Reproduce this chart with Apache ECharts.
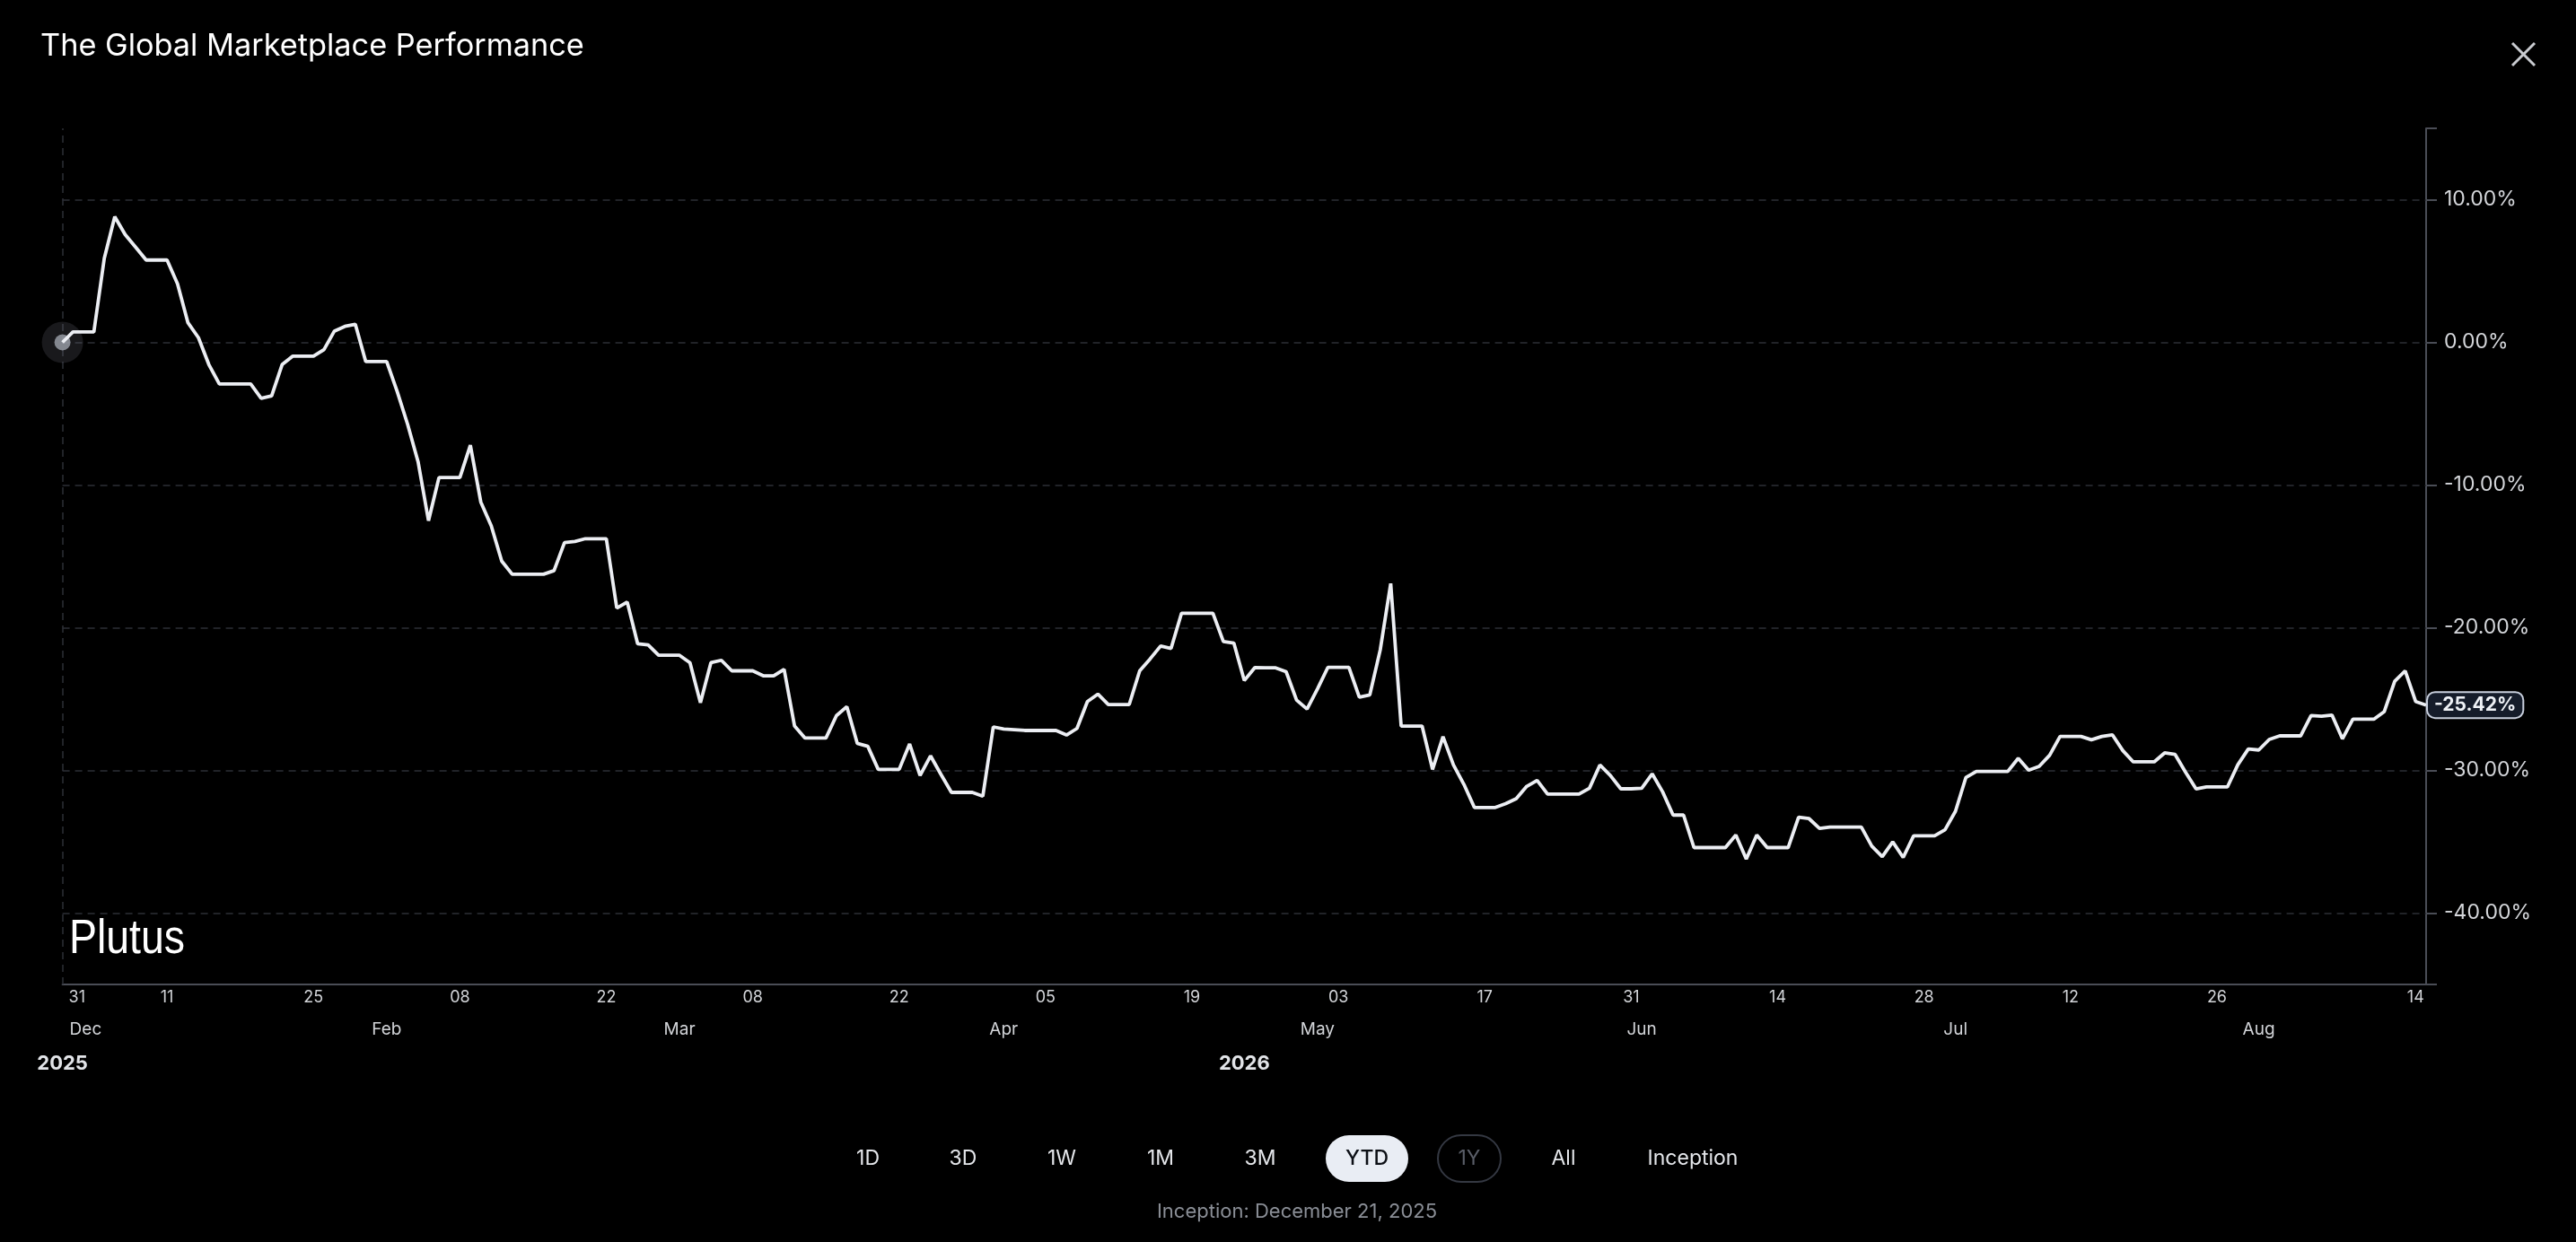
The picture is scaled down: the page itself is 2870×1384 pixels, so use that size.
<!DOCTYPE html>
<html style="height: 100%">
<head>
  <meta charset="utf-8">
  <script src="https://cdn.jsdelivr.net/npm/echarts@6/dist/echarts.min.js"></script>
  <style type="text/css">
    * { margin: 0; padding: 0; }
    body { background: #000; }
  </style>
</head>
<body style="height: 100%; margin: 0">
  <div id="container" style="width: 2870px; height: 1384px"></div>
  <script type="text/javascript">
    // daily performance (%) from 2026-01-01 to 2026-08-15
    var values = [
      0, 0.73, 0.73, 0.73, 5.9, 8.8, 7.55, 6.67, 5.77, 5.77,
      5.77, 4.1, 1.37, 0.33, -1.56, -2.92, -2.92, -2.92, -2.92, -3.92,
      -3.75, -1.56, -0.97, -0.97, -0.97, -0.51, 0.79, 1.12, 1.27, -1.35,
      -1.35, -1.35, -3.44, -5.74, -8.36, -12.5, -9.47, -9.47, -9.47, -7.21,
      -11.19, -12.86, -15.33, -16.25, -16.25, -16.25, -16.25, -16.0, -14.03, -13.95,
      -13.76, -13.76, -13.76, -18.62, -18.2, -21.13, -21.2, -21.93, -21.93, -21.93,
      -22.45, -25.26, -22.45, -22.28, -23.02, -23.02, -23.02, -23.37, -23.37, -22.91,
      -26.89, -27.73, -27.73, -27.73, -26.16, -25.53, -28.11, -28.31, -29.93, -29.93,
      -29.93, -28.15, -30.35, -28.98, -30.28, -31.54, -31.54, -31.54, -31.81, -26.95,
      -27.1, -27.14, -27.2, -27.2, -27.2, -27.2, -27.52, -27.06, -25.17, -24.65,
      -25.38, -25.38, -25.38, -23.02, -22.18, -21.28, -21.45, -18.98, -18.98, -18.98,
      -18.98, -20.97, -21.07, -23.7, -22.8, -22.81, -22.81, -23.08, -25.07, -25.7,
      -24.28, -22.77, -22.77, -22.77, -24.86, -24.71, -21.55, -16.9, -26.89, -26.89,
      -26.89, -29.93, -27.63, -29.62, -30.98, -32.6, -32.6, -32.6, -32.33, -31.98,
      -31.12, -30.7, -31.66, -31.66, -31.66, -31.66, -31.25, -29.62, -30.35, -31.29,
      -31.29, -31.25, -30.24, -31.5, -33.13, -33.13, -35.41, -35.41, -35.41, -35.41,
      -34.53, -36.21, -34.53, -35.41, -35.41, -35.41, -33.28, -33.38, -34.07, -33.97,
      -33.97, -33.97, -33.97, -35.31, -36.04, -35.01, -36.1, -34.58, -34.58, -34.58,
      -34.16, -32.86, -30.49, -30.07, -30.07, -30.07, -30.07, -29.15, -29.99, -29.72,
      -28.94, -27.62, -27.62, -27.62, -27.85, -27.62, -27.5, -28.61, -29.4, -29.4,
      -29.4, -28.77, -28.88, -30.13, -31.29, -31.16, -31.16, -31.16, -29.6, -28.5,
      -28.57, -27.83, -27.58, -27.58, -27.58, -26.16, -26.2, -26.12, -27.79, -26.41,
      -26.41, -26.41, -25.88, -23.75, -23.02, -25.17, -25.42
    ];

    // categories: one per day
    var dates = [];
    for (var i = 0; i < values.length; i++) {
      var d = new Date(2026, 0, 1 + i);
      dates.push(d.getFullYear() + '-' + (d.getMonth() + 1) + '-' + d.getDate());
    }

    // tick labels (category index -> text)
    var dayTickIdx  = [0, 10, 24, 38, 52, 66, 80, 94, 108, 122, 136, 150, 164, 178, 192, 206, 225];
    var dayTickText = ['31', '11', '25', '08', '22', '08', '22', '05', '19', '03', '17', '31', '14', '28', '12', '26', '14'];
    var monthTickIdx  = [0, 31, 59, 90, 120, 151, 181, 210];
    var monthTickText = ['Dec', 'Feb', 'Mar', 'Apr', 'May', 'Jun', 'Jul', 'Aug'];
    var yearTickIdx  = [0, 113];
    var yearTickText = ['2025', '2026'];
    var yLabelValues = [-40, -30, -20, -10, 0, 10];
    var yTickValues = [-45, -40, -30, -20, -10, 0, 10, 15];

    var rangeButtons = ['1D', '3D', '1W', '1M', '3M', 'YTD', '1Y', 'All', 'Inception'];
    var buttonX = [967, 1073, 1183, 1293, 1404, 1523, 1637, 1742, 1886];

    var FONT = 'Inter, "Noto Sans", sans-serif';

    // first label sits a little right of the axis start
    function tickFormatter(idxs, texts) {
      return function (val, idx) {
        var k = idxs.indexOf(idx);
        if (k < 0) return '';
        return k === 0 ? '{first|' + texts[k] + '}' : texts[k];
      };
    }

    function labelAxis(idxs, texts, offset, style, firstPad) {
      return {
        type: 'category',
        data: dates,
        boundaryGap: false,
        position: 'bottom',
        offset: offset,
        axisLine: { show: false, onZero: false },
        axisTick: { show: false },
        splitLine: { show: false },
        axisLabel: Object.assign({
          interval: function (idx) { return idxs.indexOf(idx) >= 0; },
          formatter: firstPad ? tickFormatter(idxs, texts) : function (val, idx) {
            var k = idxs.indexOf(idx);
            return k >= 0 ? texts[k] : '';
          },
          fontFamily: FONT,
          margin: 5,
          rich: { first: { padding: [0, 0, 0, firstPad || 0], fontSize: style.fontSize, color: style.color, fontFamily: FONT } }
        }, style)
      };
    }

    var graphics = [];
    rangeButtons.forEach(function (name, k) {
      if (name === 'YTD') {
        graphics.push({ type: 'rect', shape: { x: 1477, y: 1265, width: 92, height: 52, r: 26 },
          style: { fill: '#e9edf4' } });
      }
      if (name === '1Y') {
        graphics.push({ type: 'rect', shape: { x: 1602, y: 1265, width: 70, height: 52, r: 26 },
          style: { fill: 'none', stroke: '#343842', lineWidth: 2 } });
      }
      graphics.push({
        type: 'text', x: buttonX[k], y: 1291, z: 10,
        style: {
          text: name,
          font: (name === 'YTD' ? '500 ' : '') + '23px ' + FONT,
          fill: name === 'YTD' ? '#0c0f15' : (name === '1Y' ? '#5a5e68' : '#e4e6ea'),
          textAlign: 'center', textVerticalAlign: 'middle'
        }
      });
    });
    graphics.push({
      type: 'text', x: 1445, y: 1350,
      style: { text: 'Inception: December 21, 2025', font: '22px ' + FONT, fill: '#8a8e96',
        textAlign: 'center', textVerticalAlign: 'middle' }
    });
    graphics.push({
      type: 'text', x: 77, y: 1047, scaleX: 0.86,
      style: { x: 0, y: 0, text: 'Plutus', font: '54px "Liberation Sans", sans-serif',
        fill: '#ffffff', textAlign: 'left', textVerticalAlign: 'middle' }
    });
    // close icon
    graphics.push({ type: 'line', shape: { x1: 2799, y1: 48, x2: 2824, y2: 73 },
      style: { stroke: '#c9cbd0', lineWidth: 3 } });
    graphics.push({ type: 'line', shape: { x1: 2824, y1: 48, x2: 2799, y2: 73 },
      style: { stroke: '#c9cbd0', lineWidth: 3 } });

    var dom = document.getElementById('container');
    var myChart = echarts.init(dom);

    var option = {
      backgroundColor: '#000000',
      animation: false,
      title: {
        text: 'The Global Marketplace Performance',
        left: 40,
        top: 30,
        textStyle: { color: '#ffffff', fontSize: 34.3, fontWeight: 'normal', fontFamily: FONT }
      },
      grid: { left: 69.6, right: 167, top: 143, bottom: 287, outerBoundsMode: 'none' },
      xAxis: [
        {
          type: 'category',
          data: dates,
          boundaryGap: false,
          position: 'bottom',
          axisLine: { show: true, onZero: false, lineStyle: { color: '#4a4d56', width: 2 } },
          axisTick: { show: false },
          splitLine: { show: false },
          axisLabel: {
            interval: function (idx) { return dayTickIdx.indexOf(idx) >= 0; },
            formatter: tickFormatter(dayTickIdx, dayTickText),
            alignMinLabel: 'left',
            color: '#d2d4d8',
            fontSize: 18,
            fontFamily: FONT,
            margin: 6,
            rich: { first: { padding: [0, 0, 0, 7], fontSize: 18, color: '#d2d4d8', fontFamily: FONT } }
          }
        },
        labelAxis(monthTickIdx, monthTickText, 36, { color: '#d2d4d8', fontSize: 19, alignMinLabel: 'left' }, 8),
        labelAxis(yearTickIdx, yearTickText, 72, { color: '#e2e4e8', fontSize: 22, fontWeight: 'bold' }, 0)
      ],
      yAxis: {
        type: 'value',
        position: 'right',
        min: -45,
        max: 15,
        axisLine: { show: true, lineStyle: { color: '#4a4d56', width: 2 } },
        axisTick: { show: true, length: 12, customValues: yTickValues, lineStyle: { color: '#4a4d56', width: 2 } },
        splitLine: { show: false },
        axisLabel: {
          customValues: yLabelValues,
          margin: 20,
          color: '#d4d6da',
          fontSize: 23,
          fontFamily: FONT,
          formatter: function (v) { return v.toFixed(2) + '%'; }
        }
      },
      graphic: graphics,
      series: [
        {
          name: 'start halo',
          type: 'scatter',
          z: 1,
          silent: true,
          symbolSize: 46,
          itemStyle: { color: 'rgba(110,114,124,0.28)' },
          data: [[0, values[0]]]
        },
        {
          name: 'start',
          type: 'scatter',
          z: 2,
          silent: true,
          symbolSize: 18,
          itemStyle: { color: '#9da2ac' },
          data: [[0, values[0]]]
        },
        {
          name: 'Performance',
          type: 'line',
          z: 3,
          data: values,
          symbol: 'none',
          smooth: false,
          lineStyle: { color: '#eceef3', width: 3.8 },
          endLabel: {
            show: true,
            distance: 2,
            formatter: function (p) { return p.value.toFixed(2) + '%'; },
            color: '#eef1f6',
            fontFamily: FONT,
            fontSize: 21,
            fontWeight: 'bold',
            backgroundColor: '#151c2a',
            borderColor: '#c8cfdd',
            borderWidth: 2,
            borderRadius: 8,
            padding: [3, 7]
          },
          markLine: {
            silent: true,
            z: 1,
            symbol: ['none', 'none'],
            label: { show: false },
            lineStyle: { color: '#2c2f36', type: [8, 6], width: 1.5 },
            data: yLabelValues.map(function (v) { return { yAxis: v }; }).concat([{ xAxis: 0 }])
          }
        }
      ]
    };

    if (option && typeof option === 'object') {
      myChart.setOption(option, true);
    }
  </script>
</body>
</html>
